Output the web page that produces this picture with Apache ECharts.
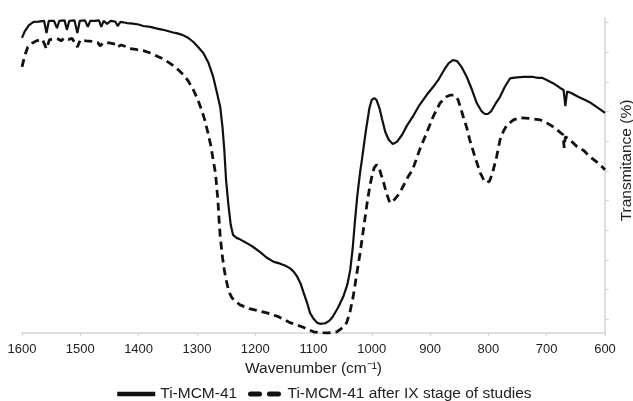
<!DOCTYPE html>
<html lang="en" style="height: 100%">
<head>
    <meta charset="UTF-8" />
    <title>FTIR</title>
    <style>
        html, body { margin: 0; padding: 0; background: #fff; }
        #container { width: 633px; height: 401px; }
    </style>
</head>
<body>
    <div id="container"></div>
    <script src="https://cdn.jsdelivr.net/npm/echarts@6/dist/echarts.min.js"></script>
    <script type="text/javascript">
        // wavenumber (cm-1), transmittance (arbitrary units)
        var seriesNames = ['Ti-MCM-41', 'Ti-MCM-41 after IX stage of studies'];
        var yTicks = [5, 15, 25, 35, 45, 55, 65, 75, 85, 95, 105];

        var tiMcm = [
            [1600, 99.9], [1595, 102.2], [1588, 104.2], [1580, 105.3], [1572, 105.4], [1562, 105.6], [1558, 101.5],
            [1554, 105.6], [1545, 105.6], [1540, 103.2], [1536, 105.6], [1527, 105.8], [1523, 102.6], [1519, 105.6],
            [1510, 105.8], [1505, 101.5], [1501, 105.6], [1492, 105.8], [1487, 103.6], [1483, 105.6], [1475, 105.6],
            [1468, 105.8], [1464, 103.6], [1460, 105.6], [1454, 104.6], [1448, 105.6], [1440, 105.4], [1436, 103.9],
            [1431, 105.3], [1420, 104.9], [1410, 104.7], [1400, 104.4], [1392, 103.9], [1380, 103.6], [1370, 103.1],
            [1360, 102.7], [1350, 102.2], [1341, 101.7], [1335, 101.5], [1325, 100.9], [1315, 99.9], [1306, 98.5],
            [1298, 96.8], [1289, 94.8], [1280, 91.4], [1272, 86.7], [1266, 81.7], [1260, 76.6], [1256, 69.5],
            [1253, 62.1], [1250, 52.0], [1246, 43.6], [1242, 36.8], [1238, 33.4], [1232, 32.4], [1226, 31.9],
            [1215, 30.7], [1204, 29.4], [1192, 27.7], [1180, 25.7], [1168, 24.3], [1157, 23.7], [1148, 23.0],
            [1140, 22.1], [1134, 21.0], [1128, 19.3], [1122, 16.9], [1117, 13.9], [1111, 10.5], [1106, 7.1],
            [1100, 5.1], [1094, 3.8], [1089, 3.4], [1080, 3.6], [1073, 4.4], [1067, 5.8], [1058, 8.8],
            [1049, 12.5], [1042, 16.6], [1037, 21.6], [1033, 28.4], [1029, 37.8], [1025, 46.3], [1020, 54.7],
            [1017, 58.7], [1010, 68.8], [1004, 76.3], [1000, 79.0], [996, 79.6], [992, 79.0], [987, 76.3],
            [982, 72.2], [977, 68.2], [971, 65.5], [964, 64.1], [957, 64.8], [948, 67.2], [940, 70.2],
            [930, 73.2], [918, 77.3], [906, 80.6], [895, 83.3], [885, 86.0], [875, 89.4], [868, 91.4],
            [861, 92.4], [854, 92.1], [846, 90.1], [837, 86.7], [828, 82.3], [820, 77.9], [812, 75.2],
            [806, 74.2], [801, 74.2], [795, 75.2], [788, 77.6], [780, 80.0], [772, 83.3], [763, 86.2],
            [755, 86.5], [740, 86.7], [723, 86.7], [715, 86.4], [708, 86.4], [700, 85.7], [690, 84.7],
            [682, 83.7], [677, 83.0], [671, 82.3], [668, 76.9], [665, 81.8], [658, 81.3], [646, 80.0],
            [635, 79.0], [624, 77.9], [612, 76.3], [600, 74.6]
        ];

        var tiMcmIX = [
            [1600, 90.1], [1595, 94.1], [1590, 96.8], [1582, 98.2], [1575, 98.9], [1565, 99.4], [1558, 96.2],
            [1553, 99.2], [1545, 99.7], [1538, 99.5], [1533, 98.9], [1527, 99.9], [1520, 99.4], [1514, 99.7],
            [1505, 96.8], [1500, 99.2], [1490, 98.9], [1480, 98.7], [1470, 98.3], [1466, 97.2], [1460, 98.3],
            [1450, 98.2], [1440, 97.8], [1437, 96.8], [1430, 97.5], [1420, 96.8], [1415, 96.3], [1405, 96.0],
            [1392, 95.6], [1380, 94.8], [1369, 93.8], [1358, 92.8], [1346, 91.3], [1335, 89.7], [1323, 87.4],
            [1315, 85.4], [1306, 82.3], [1299, 79.3], [1292, 75.6], [1286, 71.9], [1281, 67.8], [1276, 63.4],
            [1272, 58.7], [1268, 54.0], [1264, 45.2], [1262, 38.5], [1260, 32.8], [1256, 25.7], [1253, 21.6],
            [1250, 18.3], [1245, 14.2], [1240, 12.2], [1233, 10.9], [1226, 9.8], [1210, 8.5], [1195, 7.8],
            [1180, 7.1], [1160, 5.8], [1140, 3.8], [1120, 2.4], [1100, 0.7], [1090, 0.4], [1075, 0.3],
            [1060, 0.7], [1050, 2.1], [1043, 3.8], [1037, 7.8], [1032, 12.5], [1026, 20.0], [1020, 27.4],
            [1014, 35.8], [1008, 44.2], [1003, 50.3], [1000, 53.0], [996, 56.0], [992, 57.0], [988, 56.4],
            [984, 53.7], [981, 52.0], [975, 47.6], [969, 44.2], [963, 44.9], [957, 46.3], [952, 47.6],
            [945, 50.3], [937, 53.3], [930, 55.4], [918, 62.1], [906, 67.8], [895, 73.2], [883, 77.9],
            [872, 80.0], [865, 80.6], [859, 80.6], [852, 79.0], [843, 73.2], [837, 69.5], [832, 65.5],
            [823, 59.7], [814, 54.3], [808, 52.0], [803, 51.0], [798, 51.6], [793, 54.3], [786, 59.7],
            [780, 65.5], [774, 68.5], [768, 70.5], [757, 72.2], [746, 72.9], [730, 72.7], [711, 72.2],
            [700, 71.2], [689, 69.9], [680, 68.5], [672, 67.2], [670, 62.8], [668, 66.5], [662, 65.8],
            [648, 63.2], [636, 61.8], [626, 59.8], [612, 57.7], [600, 55.4]
        ];

        var font = 'Liberation Sans, Arial, Helvetica, sans-serif';
        var axisGray = '#d4d4d4';

        var dom = document.getElementById('container');
        var myChart = echarts.init(dom, null, { renderer: 'canvas' });
        var option = {
            animation: false,
            textStyle: { fontFamily: font },
            grid: { left: 22, right: 28, top: 18, bottom: 68, outerBoundsMode: 'none', containLabel: false },
            legend: [{
                data: [{ name: seriesNames[0], itemStyle: { opacity: 0 }, lineStyle: { width: 4.5, color: '#111', type: 'solid' } }],
                left: 110, top: 381, itemWidth: 38, itemHeight: 14,
                textStyle: { fontSize: 15.5, color: '#222', fontFamily: font }
            }, {
                data: [{ name: seriesNames[1], itemStyle: { opacity: 0 }, lineStyle: { width: 5, color: '#111', type: [9, 10], cap: 'round' } }],
                left: 243, top: 381, itemWidth: 32, itemHeight: 14,
                textStyle: { fontSize: 15.5, color: '#222', fontFamily: font }
            }],
            xAxis: {
                type: 'value',
                inverse: true,
                min: 600,
                max: 1600,
                interval: 100,
                name: 'Wavenumber (cm\u207B\u00B9)',
                nameLocation: 'middle',
                nameGap: 28,
                nameTextStyle: { fontSize: 15.5, color: '#222', fontFamily: font },
                axisLine: { show: true, onZero: false, lineStyle: { color: axisGray, width: 1.5 } },
                axisTick: { show: true, length: 3, lineStyle: { color: axisGray, width: 1 } },
                axisLabel: {
                    fontSize: 13, color: '#222', margin: 10, fontFamily: font,
                    formatter: function (v) { return String(v); }
                },
                splitLine: { show: false }
            },
            yAxis: {
                type: 'value',
                position: 'right',
                min: 0.3,
                max: 106.6,
                name: 'Transmitance (%)',
                nameLocation: 'middle',
                nameGap: 14,
                nameTextStyle: { fontSize: 15.5, color: '#222', fontFamily: font, padding: [0, 0, 0, 30] },
                axisLine: { show: true, onZero: false, lineStyle: { color: axisGray, width: 1.5 } },
                axisTick: { show: true, length: 4, customValues: yTicks, lineStyle: { color: axisGray, width: 1 } },
                axisLabel: { show: false },
                splitLine: { show: false }
            },
            series: [{
                name: seriesNames[0],
                type: 'line',
                data: tiMcm,
                symbol: 'none',
                lineStyle: { color: '#111', width: 2.2 },
                itemStyle: { color: '#111' }
            }, {
                name: seriesNames[1],
                type: 'line',
                data: tiMcmIX,
                symbol: 'none',
                lineStyle: { color: '#111', width: 2.8, type: [8, 5] },
                itemStyle: { color: '#111' }
            }]
        };
        myChart.setOption(option, true);
    </script>
</body>
</html>
